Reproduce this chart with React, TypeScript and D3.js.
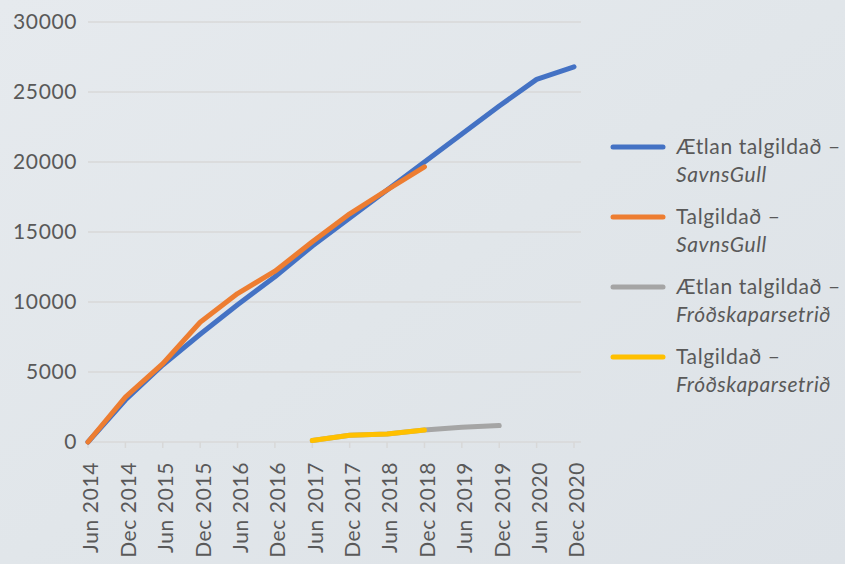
import React from "react";
import * as d3 from "d3";

const categories = [
  "Jun 2014", "Dec 2014", "Jun 2015", "Dec 2015", "Jun 2016", "Dec 2016", "Jun 2017",
  "Dec 2017", "Jun 2018", "Dec 2018", "Jun 2019", "Dec 2019", "Jun 2020", "Dec 2020",
];

// null = no value for that period
const planSavnsGull = [0, 3000, 5500, 7700, 9800, 11800, 14000, 16000, 18000, 20000, 22000, 24000, 25900, 26800];
const actualSavnsGull = [0, 3200, 5600, 8550, 10600, 12200, 14300, 16300, 18000, 19650, null, null, null, null];
const planFrodskapar = [null, null, null, null, null, null, 100, 480, 570, 860, 1050, 1170, null, null];
const actualFrodskapar = [null, null, null, null, null, null, 100, 480, 570, 860, null, null, null, null];

const yTicks = [0, 5000, 10000, 15000, 20000, 25000, 30000];

const series = [
  { name: "Ætlan talgildað –", sub: "SavnsGull", values: planSavnsGull, color: "#4472C4" },
  { name: "Talgildað –", sub: "SavnsGull", values: actualSavnsGull, color: "#ED7D31" },
  { name: "Ætlan talgildað –", sub: "Fróðskaparsetrið", values: planFrodskapar, color: "#A5A5A5" },
  { name: "Talgildað –", sub: "Fróðskaparsetrið", values: actualFrodskapar, color: "#FFC000" },
];

const W = 845;
const H = 564;
const font = "Lato, 'Open Sans', sans-serif";
const textColor = "#595959";
const gridColor = "#d8d8d8";
const fs = 21;
const ls = 0.6;

export default function App() {
  const x = d3.scalePoint<string>().domain(categories).range([88, 574]);
  const y = d3.scaleLinear().domain([0, 30000]).range([442, 22]);

  const line = d3
    .line<number | null>()
    .defined((d) => d !== null)
    .x((_, i) => x(categories[i]) as number)
    .y((d) => y(d as number));

  return (
    <svg width={W} height={H} style={{ position: "absolute", left: 0, top: 0 }} fontFamily={font}>
      <defs>
        <linearGradient id="bg" x1="0" y1="0" x2="1" y2="1">
          <stop offset="0%" stopColor="#e6eaee" />
          <stop offset="50%" stopColor="#e1e6ea" />
          <stop offset="100%" stopColor="#dde2e7" />
        </linearGradient>
      </defs>
      <rect width={W} height={H} fill="url(#bg)" />

      {/* gridlines + y labels */}
      {yTicks.map((t) => (
        <g key={t}>
          <line x1={88} x2={581} y1={y(t)} y2={y(t)} stroke={gridColor} strokeWidth={1.5} />
          <text x={77} y={y(t)} dy="0.35em" textAnchor="end" fontSize={fs} letterSpacing={ls} fill={textColor}>
            {t}
          </text>
        </g>
      ))}

      {/* x ticks + labels */}
      {categories.map((c) => (
        <g key={c}>
          <line x1={x(c)} x2={x(c)} y1={442} y2={448} stroke={gridColor} strokeWidth={1.5} />
          <text
            transform={`translate(${(x(c) as number) + 3},462) rotate(-90)`}
            textAnchor="end"
            dy="0.35em"
            fontSize={fs}
            letterSpacing={ls}
            fill={textColor}
          >
            {c}
          </text>
        </g>
      ))}

      {/* lines: gray under yellow, blue under orange */}
      {series.map((s, i) => (
        <path
          key={i}
          d={line(s.values) || ""}
          fill="none"
          stroke={s.color}
          strokeWidth={5}
          strokeLinejoin="round"
          strokeLinecap="round"
        />
      ))}

      {/* legend */}
      {series.map((s, i) => {
        const ly = 147 + i * 70;
        return (
          <g key={i}>
            <line x1={613} x2={663} y1={ly} y2={ly} stroke={s.color} strokeWidth={5} strokeLinecap="round" />
            <text x={676} y={ly + 7} fontSize={fs} letterSpacing={ls} fill={textColor}>
              {s.name}
            </text>
            <text x={676} y={ly + 35} fontSize={fs} letterSpacing={ls} fontStyle="italic" fill={textColor}>
              {s.sub}
            </text>
          </g>
        );
      })}
    </svg>
  );
}
